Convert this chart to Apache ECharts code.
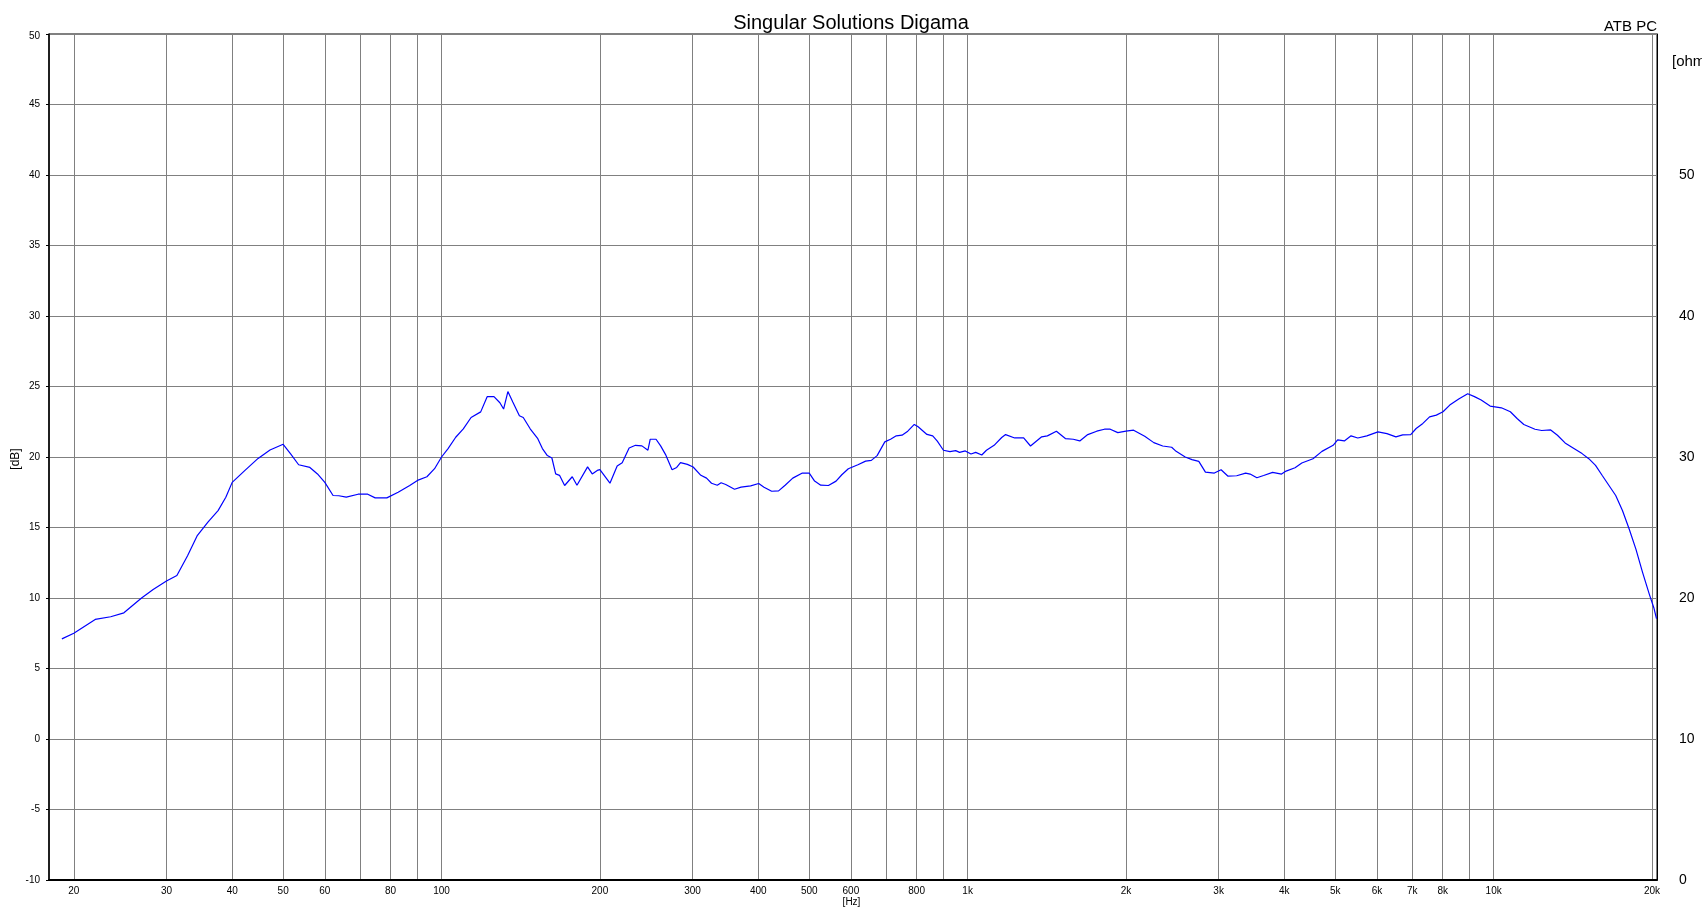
<!DOCTYPE html>
<html><head><meta charset="utf-8">
<script src="https://cdn.jsdelivr.net/npm/echarts@6/dist/echarts.min.js"></script>
<style>html,body{margin:0;padding:0;background:#fff}#c{width:1702px;height:919px}</style>
</head><body><div id="c"></div>
<script>
const chartTitle = 'Singular Solutions Digama';
const cornerNote = 'ATB PC';
const xUnit = '[Hz]';
const yUnit = '[dB]';
const y2Unit = '[ohm]';

const freqHz = [18.98, 20, 21.96, 23.5, 24.9, 26.9, 28.3, 30, 31.4, 32.9, 34.3, 36.0, 37.6, 38.9, 40, 42.3, 44.8, 47.2, 50, 51.7,
  53.5, 56.2, 58.1, 60, 62.2, 63.8, 65.9, 69.4, 72.4, 74.8, 78.7, 82.7, 87.0, 90, 93.8, 97.0, 100, 102.9, 106.4, 110,
  113.8, 118.7, 122.1, 125.8, 129.1, 131.2, 133.7, 136.6, 140.6, 143.0, 147.4, 152.4, 155.5, 158.9, 162.1, 164.8, 167.6, 171.4, 177.2, 180.9,
  189.5, 193.4, 197.7, 200, 209.0, 215.7, 220.5, 227.3, 233.7, 240.4, 246.8, 249.3, 255.7, 260.9, 266.6, 274.3, 279.9, 284.6, 293.3, 300.8,
  311.1, 319.0, 326.0, 334.3, 340.0, 346.9, 360.5, 371.0, 386.9, 400.8, 410.2, 424.2, 437.2, 449.9, 465.2, 485.2, 500.0, 511.9, 525.8, 543.8,
  562.3, 576.6, 593.3, 618.7, 639.9, 656.2, 673.0, 696.0, 713.7, 731.9, 750.5, 769.6, 791.9, 805.3, 837.0, 858.4, 875.8, 899.6, 925.6, 949.2,
  965.3, 989.9, 1015, 1036, 1064, 1086, 1123, 1161, 1181, 1229, 1278, 1317, 1383, 1418, 1475, 1534, 1588, 1634, 1692, 1760,
  1820, 1867, 1930, 2000, 2068, 2171, 2259, 2349, 2443, 2491, 2592, 2670, 2751, 2832, 2945, 3033, 3123, 3247, 3377, 3444,
  3547, 3653, 3800, 3952, 4031, 4192, 4318, 4535, 4716, 4953, 5051, 5202, 5357, 5517, 5740, 6027, 6268, 6519, 6715, 6956,
  7122, 7335, 7554, 7780, 8012, 8251, 8582, 8926, 9193, 9468, 9846, 10343, 10758, 11080, 11411, 11983, 12342, 12836, 13220, 13669,
  14158, 14724, 15164, 15618, 16084, 16565, 17061, 17571, 18096, 18637, 19194, 19767, 20157, 20395];

const splDb = [7.1, 7.5, 8.48, 8.67, 8.95, 10.0, 10.6, 11.2, 11.6, 13.0, 14.4, 15.4, 16.2, 17.15, 18.2, 19.05, 19.9, 20.5, 20.9, 20.2,
  19.45, 19.26, 18.8, 18.2, 17.27, 17.25, 17.15, 17.36, 17.36, 17.1, 17.1, 17.5, 17.98, 18.34, 18.6, 19.17, 20.0, 20.6, 21.4, 22.0,
  22.8, 23.2, 24.28, 24.28, 23.85, 23.4, 24.64, 23.9, 22.93, 22.8, 22.0, 21.3, 20.6, 20.1, 19.93, 18.8, 18.7, 17.98, 18.6, 18.0,
  19.3, 18.8, 19.05, 19.1, 18.14, 19.36, 19.6, 20.64, 20.83, 20.79, 20.48, 21.26, 21.26, 20.79, 20.17, 19.1, 19.26, 19.6, 19.48, 19.29,
  18.7, 18.5, 18.14, 18.0, 18.17, 18.05, 17.71, 17.86, 17.95, 18.12, 17.86, 17.57, 17.6, 18.0, 18.5, 18.86, 18.86, 18.29, 18.0, 17.98,
  18.29, 18.74, 19.17, 19.45, 19.71, 19.76, 20.1, 21.07, 21.26, 21.5, 21.55, 21.83, 22.31, 22.14, 21.6, 21.5, 21.12, 20.48, 20.38, 20.45,
  20.33, 20.43, 20.21, 20.33, 20.14, 20.48, 20.83, 21.38, 21.59, 21.35, 21.35, 20.78, 21.43, 21.5, 21.83, 21.31, 21.26, 21.14, 21.59, 21.83,
  21.97, 21.97, 21.73, 21.83, 21.9, 21.47, 21.02, 20.78, 20.69, 20.4, 20.0, 19.81, 19.69, 18.93, 18.86, 19.1, 18.65, 18.67, 18.86, 18.79,
  18.53, 18.69, 18.91, 18.79, 19.0, 19.24, 19.57, 19.88, 20.4, 20.83, 21.21, 21.14, 21.5, 21.35, 21.5, 21.78, 21.66, 21.43, 21.57, 21.59,
  22.02, 22.38, 22.85, 22.97, 23.21, 23.68, 24.11, 24.49, 24.28, 24.04, 23.61, 23.49, 23.21, 22.73, 22.3, 21.97, 21.88, 21.92, 21.54, 21.0,
  20.64, 20.24, 19.88, 19.41, 18.69, 17.98, 17.27, 16.2, 14.89, 13.47, 11.8, 10.26, 9.31, 8.53];

const gridFreqs = [20, 30, 40, 50, 60, 70, 80, 90, 100, 200, 300, 400, 500, 600, 700, 800, 900,
  1000, 2000, 3000, 4000, 5000, 6000, 7000, 8000, 9000, 10000, 20000];
const labelFreqs = [20, 30, 40, 50, 60, 80, 100, 200, 300, 400, 500, 600, 800,
  1000, 2000, 3000, 4000, 5000, 6000, 7000, 8000, 10000, 20000];
const freqRange = [17.94, 20440];
const dbRange = [-10, 50];
const dbStep = 5;
const ohmRange = [0, 60];
const ohmStep = 10;

const FONT = '"Liberation Sans", Arial, sans-serif';
const chart = echarts.init(document.getElementById('c'), null, {renderer: 'canvas'});

const option = {
  animation: false,
  backgroundColor: '#ffffff',
  grid: {left: 49, right: 45, top: 34, bottom: 39, show: true, borderColor: '#000', borderWidth: 1,
    containLabel: false, outerBoundsMode: 'none'},
  graphic: [
    {type: 'text', left: 'center', top: 13, style: {text: chartTitle, font: '20px ' + FONT, fill: '#000'}},
    {type: 'text', right: 45, top: 19, style: {text: cornerNote, font: '15px ' + FONT, fill: '#000'}},
    {type: 'text', left: 1672, top: 54, style: {text: y2Unit, font: '15px ' + FONT, fill: '#000'}},
    {type: 'text', x: 15.5, y: 459, rotation: Math.PI / 2,
      style: {text: yUnit, font: '12px ' + FONT, fill: '#000', align: 'center', verticalAlign: 'middle'}},
    {type: 'text', x: 851.5, y: 902,
      style: {text: xUnit, font: '10px ' + FONT, fill: '#000', align: 'center', verticalAlign: 'middle'}}
  ],
  xAxis: {
    type: 'log', logBase: 10, min: freqRange[0], max: freqRange[1],
    axisLine: {show: true, onZero: false, lineStyle: {color: '#000', width: 2}},
    axisTick: {show: false, customValues: gridFreqs},
    axisLabel: {customValues: labelFreqs, margin: 6, fontFamily: FONT, fontSize: 10, color: '#000',
      formatter: v => v >= 1000 ? (v / 1000) + 'k' : String(v)},
    splitLine: {show: true, lineStyle: {color: '#808080', width: 1}},
    minorTick: {show: false}, minorSplitLine: {show: false}
  },
  yAxis: [
    {
      type: 'value', min: dbRange[0], max: dbRange[1], interval: dbStep, position: 'left',
      axisLine: {show: true, lineStyle: {color: '#000', width: 1.5}},
      axisTick: {show: true, length: 3, lineStyle: {color: '#000'}},
      axisLabel: {margin: 9, fontFamily: FONT, fontSize: 10, color: '#000', showMinLabel: true, showMaxLabel: true,
        formatter: v => v === dbRange[1] ? '{top|' + v + '}' : String(v),
        rich: {top: {fontFamily: FONT, fontSize: 10, color: '#000', padding: [5, 0, 0, 0]}}},
      splitLine: {show: true, lineStyle: {color: '#808080', width: 1}}
    },
    {
      type: 'value', min: ohmRange[0], max: ohmRange[1], interval: ohmStep, position: 'right',
      axisLine: {show: true, lineStyle: {color: '#000', width: 1}},
      axisTick: {show: false},
      axisLabel: {margin: 22, fontFamily: FONT, fontSize: 14, color: '#000', showMinLabel: true, showMaxLabel: true,
        padding: [3, 0, 0, 0],
        formatter: v => v >= ohmRange[1] ? '' : String(v)},
      splitLine: {show: false}
    }
  ],
  series: [{
    type: 'line', xAxisIndex: 0, yAxisIndex: 0, showSymbol: false, symbol: 'none', smooth: false,
    lineStyle: {color: '#0000ff', width: 1.2}, itemStyle: {color: '#0000ff'},
    data: freqHz.map((f, i) => [f, splDb[i]])
  }]
};
chart.setOption(option);
</script></body></html>
